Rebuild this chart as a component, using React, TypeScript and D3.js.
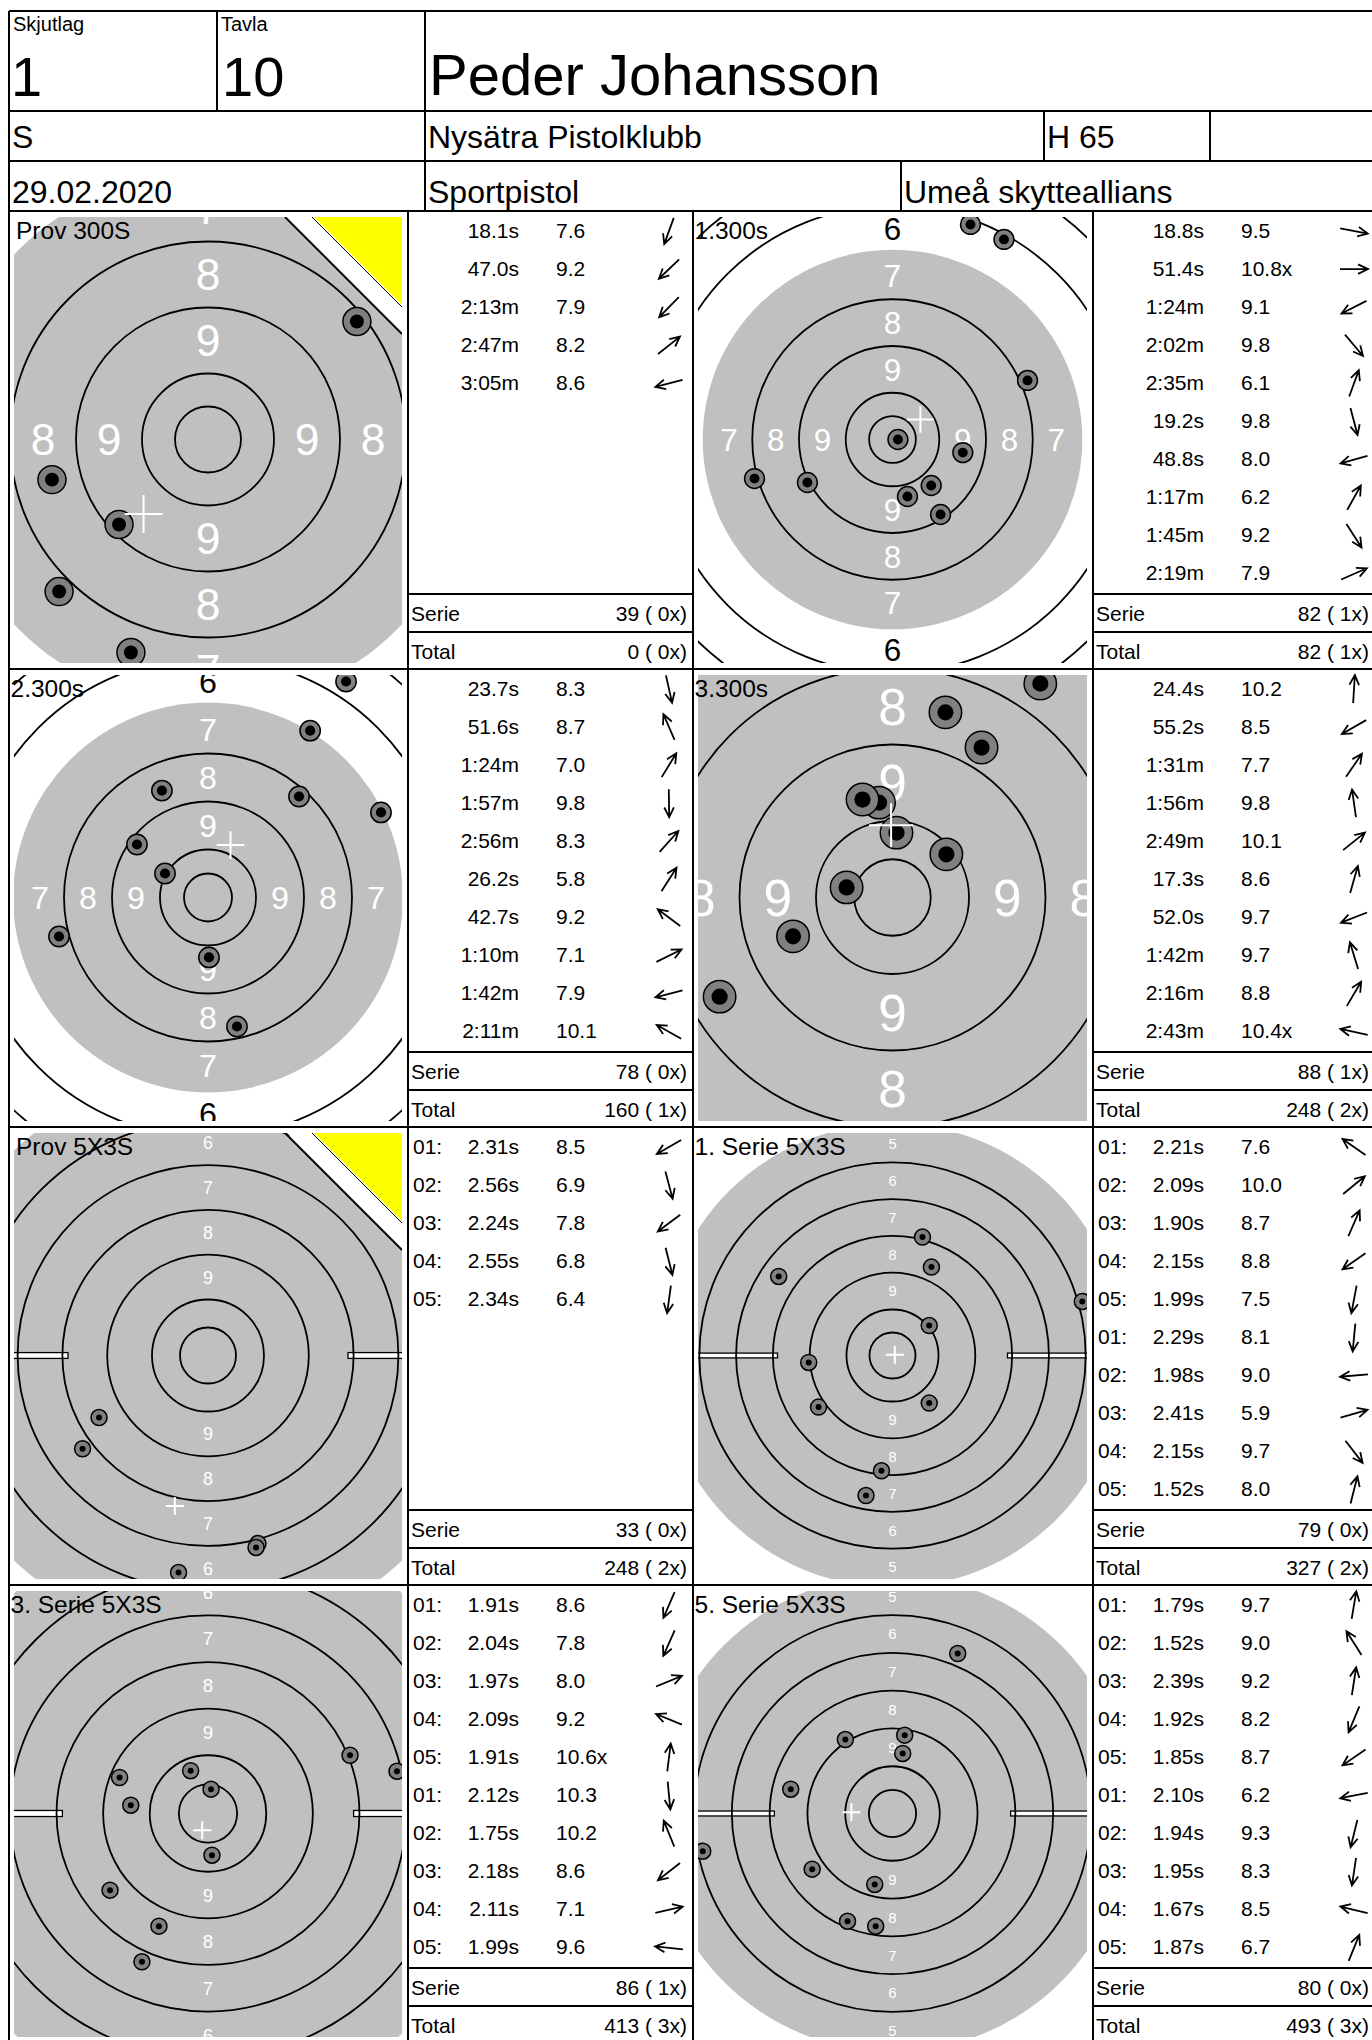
import React from "react";
import * as d3 from "d3";

const W = 1372;
const H = 2040;
const FONT = "'Liberation Sans', Arial, Helvetica, sans-serif";

// ---------- header data ----------
const headerSmallLabels = ["Skjutlag", "Tavla"];
const headerBigValues = ["1", "10"];
const shooterName = "Peder Johansson";
const shooterClass = "S";
const clubName = "Nysätra Pistolklubb";
const ageGroup = "H 65";
const matchDate = "29.02.2020";
const disciplineName = "Sportpistol";
const organizerName = "Umeå skytteallians";

// ---------- panel data ----------
const panelTitles = ["Prov 300S", "1.300s", "2.300s", "3.300s", "Prov 5X3S", "1. Serie 5X3S", "3. Serie 5X3S", "5. Serie 5X3S"];
const panelTargets = ["precision", "precision", "precision", "precision", "rapid", "rapid", "rapid", "rapid"];
const panelSighter = [true, false, false, false, true, false, false, false];
const panelZoom = [2.64, 1.87, 1.92, 3.06, 1.12, 0.92, 1.165, 0.945]; // px per mm
const rapidShotLabels = ["01:", "02:", "03:", "04:", "05:"];

// shot coordinates on the target, mm from centre (x right, y up), in table order
const shotX = [
  [-29.2, -33.7, -56.4, 56.4, -59.1],
  [37.6, 2.9, -45.5, 20.7, 41.7, 8.0, -73.8, 59.6, 25.7, 72.2],
  [15.1, -24.0, 53.2, 0.5, 47.4, 71.9, -37.0, 90.1, -77.6, -22.4],
  [1.3, -56.5, 48.3, -4.4, 17.6, 17.3, -32.5, -9.8, 29.1, -15.0],
  [-97.3, 44.6, -112.0, 42.9, -26.3],
  [-123.7, 39.9, 42.3, -80.4, -28.8, -12.0, -91.1, 206.3, 39.9, 32.6],
  [-42.1, -56.7, 121.9, -75.9, 2.6, 3.4, -14.9, -84.1, 162.2, -66.3],
  [10.8, -49.9, 12.9, -47.6, -85.0, -200.8, -18.8, -17.8, -107.7, 69.0],
];
const shotY = [
  [-80.7, -32.2, -57.6, 44.7, -15.2],
  [-7.0, 0, -23.0, -24.6, 115.0, -30.5, -20.9, 107.0, -40.1, 31.6],
  [-67.2, 55.7, 86.9, -31.2, 52.6, 112.5, 27.6, 44.3, -20.3, 12.5],
  [21.2, -32.4, 69.9, 31.0, 14.1, 60.5, -12.7, 32.0, 49.0, 3.3],
  [-55.4, -167.9, -83.3, -171.4, -193.8],
  [85.9, 32.6, 96.1, -56.1, -152.2, -125.3, -7.6, 58.7, -51.7, 128.7],
  [-96.7, -127.3, 50.0, 30.9, 20.9, -35.8, 36.7, -65.8, 36.3, 7.1],
  [63.5, 78.3, 82.9, -114.0, -58.9, -39.9, -75.1, -119.3, 25.7, 169.3],
];
const shotTimes = [
  ["18.1s", "47.0s", "2:13m", "2:47m", "3:05m"],
  ["18.8s", "51.4s", "1:24m", "2:02m", "2:35m", "19.2s", "48.8s", "1:17m", "1:45m", "2:19m"],
  ["23.7s", "51.6s", "1:24m", "1:57m", "2:56m", "26.2s", "42.7s", "1:10m", "1:42m", "2:11m"],
  ["24.4s", "55.2s", "1:31m", "1:56m", "2:49m", "17.3s", "52.0s", "1:42m", "2:16m", "2:43m"],
  ["2.31s", "2.56s", "2.24s", "2.55s", "2.34s"],
  ["2.21s", "2.09s", "1.90s", "2.15s", "1.99s", "2.29s", "1.98s", "2.41s", "2.15s", "1.52s"],
  ["1.91s", "2.04s", "1.97s", "2.09s", "1.91s", "2.12s", "1.75s", "2.18s", "2.11s", "1.99s"],
  ["1.79s", "1.52s", "2.39s", "1.92s", "1.85s", "2.10s", "1.94s", "1.95s", "1.67s", "1.87s"],
];
const shotValues = [
  ["7.6", "9.2", "7.9", "8.2", "8.6"],
  ["9.5", "10.8x", "9.1", "9.8", "6.1", "9.8", "8.0", "6.2", "9.2", "7.9"],
  ["8.3", "8.7", "7.0", "9.8", "8.3", "5.8", "9.2", "7.1", "7.9", "10.1"],
  ["10.2", "8.5", "7.7", "9.8", "10.1", "8.6", "9.7", "9.7", "8.8", "10.4x"],
  ["8.5", "6.9", "7.8", "6.8", "6.4"],
  ["7.6", "10.0", "8.7", "8.8", "7.5", "8.1", "9.0", "5.9", "9.7", "8.0"],
  ["8.6", "7.8", "8.0", "9.2", "10.6x", "10.3", "10.2", "8.6", "7.1", "9.6"],
  ["9.7", "9.0", "9.2", "8.2", "8.7", "6.2", "9.3", "8.3", "8.5", "6.7"],
];
const serieScores = ["39 ( 0x)", "82 ( 1x)", "78 ( 0x)", "88 ( 1x)", "33 ( 0x)", "79 ( 0x)", "86 ( 1x)", "80 ( 0x)"];
const totalScores = ["0 ( 0x)", "82 ( 1x)", "160 ( 1x)", "248 ( 2x)", "248 ( 2x)", "327 ( 2x)", "413 ( 3x)", "493 ( 3x)"];

// target definitions (mm)
const precisionRings = [12.5, 25, 50, 75, 125, 150, 175, 200];
const precisionZones = [9, 8, 7, 6, 5];
const precisionZoneMid = [37.5, 62.5, 87.5, 112.5, 137.5];
const rapidRings = [25, 50, 90, 130, 170, 210];
const rapidZones = [9, 8, 7, 6, 5];
const rapidZoneMid = [70, 110, 150, 190, 230];

// ---------- layout ----------
const COLS = [9, 408, 693, 1093, 1372];
const TOP0 = 211;
const PANEL_H = 458;
const ROW_H = 38.1;
const LW = 2;
const TABLE_FS = 21;

function panelGeom(i: number) {
  const row = Math.floor(i / 2);
  const col = i % 2;
  const top = TOP0 + row * PANEL_H;
  const tx0 = COLS[col * 2];
  const tx1 = COLS[col * 2 + 1];
  const tr = COLS[col * 2 + 2];
  const x0 = tx0 + 5;
  const x1 = tx1 - 6;
  const y0 = top + 6;
  const y1 = top + PANEL_H - 6;
  return { row, col, top, tx0, tx1, tr, x0, x1, y0, y1, cx: (x0 + x1) / 2, cy: top + 228.5 };
}

function Arrow({ cx, cy, dx, dy }: { cx: number; cy: number; dx: number; dy: number }) {
  const a = Math.atan2(dy, dx);
  const L = 28;
  const hl = 11;
  const ha = 0.45;
  const tx = cx + (Math.cos(a) * L) / 2;
  const ty = cy + (Math.sin(a) * L) / 2;
  const bx = cx - (Math.cos(a) * L) / 2;
  const by = cy - (Math.sin(a) * L) / 2;
  const p = d3.path();
  p.moveTo(bx, by);
  p.lineTo(tx, ty);
  p.moveTo(tx - hl * Math.cos(a - ha), ty - hl * Math.sin(a - ha));
  p.lineTo(tx, ty);
  p.lineTo(tx - hl * Math.cos(a + ha), ty - hl * Math.sin(a + ha));
  return <path d={p.toString()} fill="none" stroke="#000" strokeWidth={1.8} strokeLinejoin="miter" />;
}

function Target({ i }: { i: number }) {
  const g = panelGeom(i);
  const s = panelZoom[i];
  const precision = panelTargets[i] === "precision";
  const R = 300;
  const xs = d3.scaleLinear().domain([-R, R]).range([g.cx - R * s, g.cx + R * s]);
  const ys = d3.scaleLinear().domain([-R, R]).range([g.cy + R * s, g.cy - R * s]);
  const rad = (mm: number) => xs(mm) - xs(0);
  const rings = precision ? precisionRings : rapidRings;
  const zones = precision ? precisionZones : rapidZones;
  const mids = precision ? precisionZoneMid : rapidZoneMid;
  const grayR = precision ? 101.5 : 252;
  const labelSize = rad(precision ? 16.8 : 16);
  const dirs = precision ? [[0, 1], [0, -1], [-1, 0], [1, 0]] : [[0, 1], [0, -1]];
  const xsArr = shotX[i];
  const ysArr = shotY[i];
  const mx = d3.mean(xsArr) as number;
  const my = d3.mean(ysArr) as number;
  const shotR = precision ? rad(5.3) : 8;
  const dotR = precision ? rad(2.65) : 3;
  const crossH = precision ? rad(7.2) : 9;
  const id = `clip-${i}`;
  return (
    <g>
      <defs>
        <clipPath id={id}>
          <rect x={g.x0} y={g.y0} width={g.x1 - g.x0} height={g.y1 - g.y0} />
        </clipPath>
      </defs>
      <g clipPath={`url(#${id})`}>
        <circle cx={xs(0)} cy={ys(0)} r={rad(grayR)} fill="#c0c0c0" />
        {!precision &&
          [-1, 1].map((side) => (
            <rect
              key={side}
              x={side < 0 ? xs(-320) : xs(125)}
              y={ys(2.6)}
              width={rad(195)}
              height={rad(5.2)}
              fill="#fff"
              stroke="#000"
              strokeWidth={1.3}
            />
          ))}
        {rings.map((r) => (
          <circle key={r} cx={xs(0)} cy={ys(0)} r={rad(r)} fill="none" stroke="#000" strokeWidth={1.8} />
        ))}
        {zones.map((z, k) =>
          dirs.map(([ux, uy], d) => (
            <text
              key={`${k}-${d}`}
              x={xs(ux * mids[k])}
              y={ys(uy * mids[k]) + 0.358 * labelSize}
              fontSize={labelSize}
              textAnchor="middle"
              fill={mids[k] < grayR ? "#fff" : "#000"}
            >
              {z}
            </text>
          ))
        )}
        {xsArr.map((vx, k) => (
          <g key={k}>
            <circle cx={xs(vx)} cy={ys(ysArr[k])} r={shotR} fill="#808080" stroke="#000" strokeWidth={1.5} />
            <circle cx={xs(vx)} cy={ys(ysArr[k])} r={dotR} fill="#000" />
          </g>
        ))}
        <path
          d={`M${xs(mx) - crossH},${ys(my)}H${xs(mx) + crossH}M${xs(mx)},${ys(my) - crossH}V${ys(my) + crossH}`}
          stroke="#fff"
          strokeWidth={2}
        />
        {panelSighter[i] && (
          <g>
            <polygon points={`${g.x1 - 117},${g.y0 - 2} ${g.x1 + 2},${g.y0 - 2} ${g.x1 + 2},${g.y0 + 117}`} fill="#fff" />
            <line x1={g.x1 - 117} y1={g.y0} x2={g.x1} y2={g.y0 + 117} stroke="#000" strokeWidth={1.8} />
            <polygon points={`${g.x1 - 90},${g.y0 - 2} ${g.x1 + 2},${g.y0 - 2} ${g.x1 + 2},${g.y0 + 90}`} fill="#ffff00" />
            <line x1={g.x1 - 90} y1={g.y0} x2={g.x1} y2={g.y0 + 90} stroke="#000" strokeWidth={1} />
          </g>
        )}
      </g>
      <text x={g.tx0 + (panelSighter[i] ? 7 : 1.5)} y={g.top + 19 + 0.358 * 24.5} fontSize={24.5}>
        {panelTitles[i]}
      </text>
    </g>
  );
}

function Table({ i }: { i: number }) {
  const g = panelGeom(i);
  const TL = g.tx1;
  const TR = g.tr;
  const rapid = panelTargets[i] === "rapid";
  const base = 0.358 * TABLE_FS;
  const serieY = g.top + 383;
  const totalY = g.top + 421;
  const rightX = TR - (g.col === 0 ? 6 : 3);
  return (
    <g fontSize={TABLE_FS}>
      {shotTimes[i].map((t, k) => {
        const yc = g.top + 19 + ROW_H * k;
        return (
          <g key={k}>
            {rapid && (
              <text x={TL + 5} y={yc + base}>
                {rapidShotLabels[k % 5]}
              </text>
            )}
            <text x={TL + 111} y={yc + base} textAnchor="end">
              {t}
            </text>
            <text x={TL + 148} y={yc + base}>
              {shotValues[i][k]}
            </text>
            <Arrow cx={TL + 261} cy={yc + 1} dx={shotX[i][k]} dy={-shotY[i][k]} />
          </g>
        );
      })}
      <line x1={TL} x2={TR} y1={serieY} y2={serieY} stroke="#000" strokeWidth={LW} />
      <line x1={TL} x2={TR} y1={totalY} y2={totalY} stroke="#000" strokeWidth={LW} />
      <text x={TL + 3} y={serieY + 19 + base}>Serie</text>
      <text x={rightX} y={serieY + 19 + base} textAnchor="end" style={{ whiteSpace: "pre" }}>
        {serieScores[i]}
      </text>
      <text x={TL + 3} y={totalY + 19 + base}>Total</text>
      <text x={rightX} y={totalY + 19 + base} textAnchor="end" style={{ whiteSpace: "pre" }}>
        {totalScores[i]}
      </text>
    </g>
  );
}

export default function App() {
  const panelIdx = d3.range(8);
  const hLines: [number, number, number][] = [
    [9, W, 11],
    [9, W, 111],
    [9, W, 161],
    [9, W, 211],
    ...d3.range(1, 4).map((r) => [9, W, TOP0 + r * PANEL_H] as [number, number, number]),
  ];
  const vLines: [number, number, number][] = [
    [9, 11, H],
    [217, 11, 111],
    [425, 11, 211],
    [1044, 111, 161],
    [1210, 111, 161],
    [901, 161, 211],
    [408, 211, H],
    [693, 211, H],
    [1093, 211, H],
  ];
  return (
    <svg
      width={W}
      height={H}
      viewBox={`0 0 ${W} ${H}`}
      style={{ position: "absolute", left: 0, top: 0, display: "block", background: "#fff" }}
      fontFamily={FONT}
    >
      <rect x={0} y={0} width={W} height={H} fill="#fff" />
      {panelIdx.map((i) => (
        <Target key={`t${i}`} i={i} />
      ))}
      {panelIdx.map((i) => (
        <Table key={`tb${i}`} i={i} />
      ))}
      {hLines.map(([a, b, y], k) => (
        <line key={`h${k}`} x1={a} x2={b} y1={y} y2={y} stroke="#000" strokeWidth={LW} />
      ))}
      {vLines.map(([x, a, b], k) => (
        <line key={`v${k}`} x1={x} x2={x} y1={a} y2={b} stroke="#000" strokeWidth={LW} />
      ))}
      {/* header */}
      <text x={13} y={31} fontSize={20}>{headerSmallLabels[0]}</text>
      <text x={221} y={31} fontSize={20}>{headerSmallLabels[1]}</text>
      <text x={11} y={96} fontSize={56}>{headerBigValues[0]}</text>
      <text x={222} y={96} fontSize={56}>{headerBigValues[1]}</text>
      <text x={429} y={95} fontSize={58}>{shooterName}</text>
      <text x={12} y={148} fontSize={32}>{shooterClass}</text>
      <text x={428} y={148} fontSize={32}>{clubName}</text>
      <text x={1047} y={148} fontSize={32}>{ageGroup}</text>
      <text x={12} y={203} fontSize={32}>{matchDate}</text>
      <text x={428} y={203} fontSize={32}>{disciplineName}</text>
      <text x={904} y={203} fontSize={32}>{organizerName}</text>
    </svg>
  );
}
